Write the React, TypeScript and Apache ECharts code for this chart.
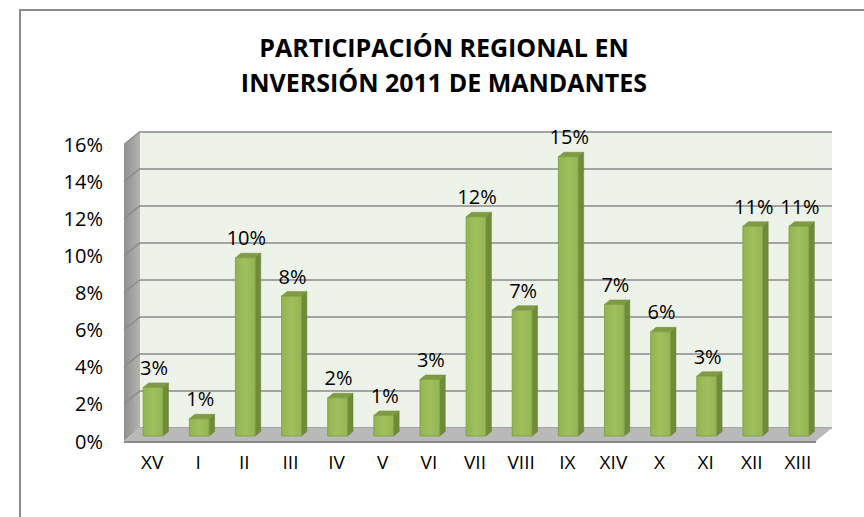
import React, { useEffect, useRef } from "react";
import * as echarts from "echarts";

const titleLines = ["PARTICIPACIÓN REGIONAL EN", "INVERSIÓN 2011 DE MANDANTES"];
const categories = ["XV", "I", "II", "III", "IV", "V", "VI", "VII", "VIII", "IX", "XIV", "X", "XI", "XII", "XIII"];
const shares = [2.62, 0.93, 9.62, 7.55, 2.06, 1.11, 3.05, 11.83, 6.79, 15.07, 7.1, 5.62, 3.23, 11.32, 11.32];
const yTicks = [0, 2, 4, 6, 8, 10, 12, 14, 16];
const yMax = 16;
const yStep = 2;

const FONT = "'Open Sans', 'Noto Sans', sans-serif";
// 3D layout (pixels)
const DEPTH_X = 16;
const DEPTH_Y = -13;
const PLOT_W = 692;
const PLOT_H = 296.5;
const FRONT_LEFT = 124;
const FRONT_TOP = 144.5;

export default function App() {
  const ref = useRef<HTMLDivElement>(null);
  useEffect(() => {
    if (!ref.current) return;
    const chart = echarts.init(ref.current, undefined, { renderer: "svg" });

    const hiddenCat = (gridIndex: number, show = false) => ({
      type: "category" as const,
      gridIndex,
      data: categories,
      axisLine: { show: false },
      axisTick: { show: false },
      axisLabel: show
        ? { show: true, fontSize: 19, fontFamily: FONT, color: "#000", margin: 11 }
        : { show: false },
      splitLine: { show: false },
    });
    const valAxis = (gridIndex: number, extra: any = {}) => ({
      type: "value" as const,
      gridIndex,
      min: 0,
      max: yMax,
      interval: yStep,
      axisLine: { show: false },
      axisTick: { show: false },
      axisLabel: { show: false },
      splitLine: { show: false },
      ...extra,
    });

    chart.setOption({
      animation: false,
      backgroundColor: "#ffffff",
      grid: [
        {
          left: FRONT_LEFT + DEPTH_X,
          top: FRONT_TOP + DEPTH_Y,
          width: PLOT_W,
          height: PLOT_H,
          show: true,
          backgroundColor: "#EEF3EA",
          borderWidth: 0,
        },
        { left: FRONT_LEFT, top: FRONT_TOP, width: PLOT_W, height: PLOT_H },
        { left: FRONT_LEFT + 5, top: FRONT_TOP, width: PLOT_W, height: PLOT_H },
      ],
      xAxis: [hiddenCat(0), hiddenCat(1), hiddenCat(2, true)],
      yAxis: [
        valAxis(0, {
          splitLine: { show: true, lineStyle: { color: "#A3A3A3", width: 2 } },
        }),
        valAxis(1, {
          axisLabel: {
            show: true,
            formatter: "{value}%",
            fontSize: 20,
            fontFamily: FONT,
            color: "#000",
            margin: 21,
          },
        }),
        valAxis(2),
      ],
      graphic: [
        {
          type: "rect",
          shape: { x: 20, y: 10, width: 900, height: 600 },
          style: { fill: "rgba(0,0,0,0)", stroke: "#8C8C8C", lineWidth: 2 },
          silent: true,
        },
        {
          type: "text",
          style: {
            text: titleLines[0],
            x: 444,
            y: 47,
            align: "center",
            verticalAlign: "middle",
            fontSize: 25,
            fontWeight: "bold",
            fontFamily: FONT,
            fill: "#000",
          },
        },
        {
          type: "text",
          style: {
            text: titleLines[1],
            x: 444,
            y: 82,
            align: "center",
            verticalAlign: "middle",
            fontSize: 25,
            fontWeight: "bold",
            fontFamily: FONT,
            fill: "#000",
          },
        },
      ],
      series: [
        {
          type: "custom",
          name: "walls",
          xAxisIndex: 1,
          yAxisIndex: 1,
          silent: true,
          data: yTicks.map((v) => [0, v]),
          encode: { x: 0, y: 1 },
          renderItem: (params: any, api: any) => {
            const cs = params.coordSys;
            const v = api.value(1);
            const y = api.coord([0, v])[1];
            const x0 = cs.x;
            const children: any[] = [];
            if (params.dataIndex === 0) {
              const yTop = cs.y;
              const yBot = cs.y + cs.height;
              children.push({
                type: "polygon",
                shape: {
                  points: [
                    [x0, yBot],
                    [x0, yTop],
                    [x0 + DEPTH_X, yTop + DEPTH_Y],
                    [x0 + DEPTH_X, yBot + DEPTH_Y],
                  ],
                },
                style: {
                  fill: new echarts.graphic.LinearGradient(0, 0, 1, 0, [
                    { offset: 0, color: "#8F8F8F" },
                    { offset: 1, color: "#B4B4B0" },
                  ]),
                },
              });
              children.push({
                type: "polygon",
                shape: {
                  points: [
                    [x0, yBot],
                    [x0 + DEPTH_X, yBot + DEPTH_Y],
                    [x0 + DEPTH_X + cs.width, yBot + DEPTH_Y],
                    [x0 + cs.width, yBot],
                  ],
                },
                style: { fill: "#B9B9B9" },
              });
              children.push({
                type: "line",
                shape: { x1: x0, y1: yBot + 1, x2: x0 + cs.width, y2: yBot + 1 },
                style: { stroke: "#8A8A8A", lineWidth: 2 },
              });
            }
            if (v > 0) {
              children.push({
                type: "line",
                shape: { x1: x0, y1: y, x2: x0 + DEPTH_X, y2: y + DEPTH_Y },
                style: { stroke: "#8C8C8C", lineWidth: 1.5 },
              });
            }
            return { type: "group", children };
          },
        },
        {
          type: "custom",
          name: "bars",
          xAxisIndex: 1,
          yAxisIndex: 1,
          data: shares.map((v, i) => [i, v]),
          encode: { x: 0, y: 1 },
          renderItem: (params: any, api: any) => {
            const i = api.value(0);
            const v = api.value(1);
            const p0 = api.coord([i, 0]);
            const p1 = api.coord([i, v]);
            const band = api.size([1, 0])[0];
            const w = band * 0.43;
            const cx = p0[0] + 6;
            const by = p0[1] - 5;
            const ty = p1[1] - 5;
            const dx = 5.5;
            const dy = -4.5;
            const l = cx - w / 2;
            const r = cx + w / 2;
            return {
              type: "group",
              children: [
                {
                  type: "polygon",
                  shape: {
                    points: [
                      [r, ty],
                      [r + dx, ty + dy],
                      [r + dx, by + dy],
                      [r, by],
                    ],
                  },
                  style: { fill: "#6F8B37", stroke: "#66802F", lineWidth: 0.5 },
                },
                {
                  type: "polygon",
                  shape: {
                    points: [
                      [l, ty],
                      [l + dx, ty + dy],
                      [r + dx, ty + dy],
                      [r, ty],
                    ],
                  },
                  style: { fill: "#7F9C45", stroke: "#6F8B37", lineWidth: 0.5 },
                },
                {
                  type: "rect",
                  shape: { x: l, y: ty, width: w, height: by - ty },
                  style: {
                    fill: new echarts.graphic.LinearGradient(0, 0, 1, 0, [
                      { offset: 0, color: "#92B450" },
                      { offset: 0.5, color: "#A0C05E" },
                      { offset: 1, color: "#93B552" },
                    ]),
                    stroke: "#7E9C43",
                    lineWidth: 0.8,
                  },
                },
                {
                  type: "text",
                  style: {
                    text: Math.round(v) + "%",
                    x: cx + 1,
                    y: ty - 10,
                    align: "center",
                    verticalAlign: "bottom",
                    fontSize: 20,
                    fontFamily: FONT,
                    fill: "#000",
                  },
                },
              ],
            };
          },
        },
      ],
    });
    return () => chart.dispose();
  }, []);
  return (
    <div
      ref={ref}
      style={{ position: "fixed", left: 0, top: 0, width: 864, height: 517 }}
    />
  );
}
